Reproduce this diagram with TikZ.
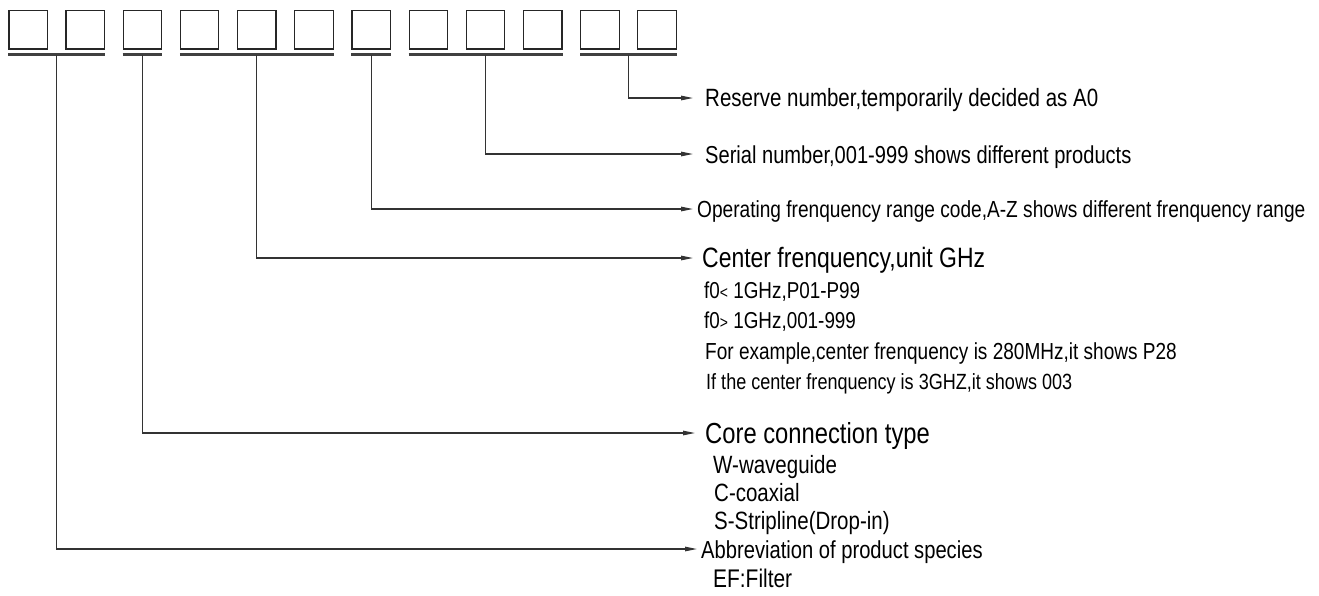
\documentclass[tikz,border=0pt]{standalone}
\usepackage{fontspec}
\setmainfont{Liberation Sans}[FakeStretch=0.82]
\usetikzlibrary{arrows.meta}
\newcommand\fz[1]{\fontsize{#1}{#1}\selectfont}
\begin{document}
\begin{tikzpicture}[x=1pt,y=-1pt,
  cell/.style={draw=black!85, line width=1.2pt, minimum width=38.4pt, minimum height=38.3pt, inner sep=0pt, anchor=north west},
  bar/.style={draw=black!75, line width=2.2pt},
  conn/.style={draw=black!80, line width=1.2pt, -{Triangle[length=12pt,width=4.5pt]}},
  lbl/.style={anchor=base west, inner sep=0pt, text=black}]
\useasboundingbox[fill=white] (0,0) rectangle (1319,595);
% boxes
\foreach \i in {1,...,12}
  \node[cell] (b\i) at ({8.3+(\i-1)*57.18},10) {};
% underlines
\path (b1.south west) ++(0,5) coordinate (u1a) (b2.south east) ++(0,5) coordinate (u1b)
      (b3.south west) ++(0,5) coordinate (u2a) (b3.south east) ++(0,5) coordinate (u2b)
      (b4.south west) ++(0,5) coordinate (u3a) (b6.south east) ++(0,5) coordinate (u3b)
      (b7.south west) ++(0,5) coordinate (u4a) (b7.south east) ++(0,5) coordinate (u4b)
      (b8.south west) ++(0,5) coordinate (u5a) (b10.south east) ++(0,5) coordinate (u5b)
      (b11.south west) ++(0,5) coordinate (u6a) (b12.south east) ++(0,5) coordinate (u6b);
\draw[bar] (u1a) -- (u1b) coordinate[midway] (g1);
\draw[bar] (u2a) -- (u2b) coordinate[midway] (g2);
\draw[bar] (u3a) -- (u3b) coordinate[midway] (g3);
\draw[bar] (u4a) -- (u4b) coordinate[midway] (g4);
\draw[bar] (u5a) -- (u5b) coordinate[midway] (g5);
\draw[bar] (u6a) -- (u6b) coordinate[midway] (g6);
% arrow tips
\coordinate (a6) at (693,98);
\coordinate (a5) at (693,154);
\coordinate (a4) at (693,209);
\coordinate (a3) at (693,258);
\coordinate (a2) at (695,433);
\coordinate (a1) at (697,549);
\draw[conn] (g6) |- (a6);
\draw[conn] (g5) |- (a5);
\draw[conn] (g4) |- (a4);
\draw[conn] (g3) |- (a3);
\draw[conn] (g2) |- (a2);
\draw[conn] (g1) |- (a1);
% labels
\node[lbl, font=\fz{25}] (t6) at (705,106.5) {Reserve number,temporarily decided as A0};
\node[lbl, font=\fz{24.5}] (t5) at (705,163) {Serial number,001-999 shows different products};
\node[lbl, font=\fz{23.3}] (t4) at (697,217.5) {Operating frenquency range code,A-Z shows different frenquency range};
\node[lbl, font=\fz{28}] (t3) at (702,267) {Center frenquency,unit GHz};
\node[lbl, font=\fz{23}] (t3a) at (704,298) {f0{\fz{17}<} 1GHz,P01-P99};
\node[lbl, font=\fz{23}] (t3b) at (704,328) {f0{\fz{17}>} 1GHz,001-999};
\node[lbl, font=\fz{23.2}] (t3c) at (705,359) {For example,center frenquency is 280MHz,it shows P28};
\node[lbl, font=\fz{22}] (t3d) at (706,389) {If the center frenquency is 3GHZ,it shows 003};
\node[lbl, font=\fz{29}] (t2) at (705,443) {Core connection type};
\node[lbl, font=\fz{25}] (t2a) at (713,473) {W-waveguide};
\node[lbl, font=\fz{25}] (t2b) at (714,501) {C-coaxial};
\node[lbl, font=\fz{25}] (t2c) at (714,529) {S-Stripline(Drop-in)};
\node[lbl, font=\fz{24.6}] (t1) at (701,558) {Abbreviation of product species};
\node[lbl, font=\fz{25.5}] (t1a) at (713,587) {EF:Filter};
\end{tikzpicture}
\end{document}
